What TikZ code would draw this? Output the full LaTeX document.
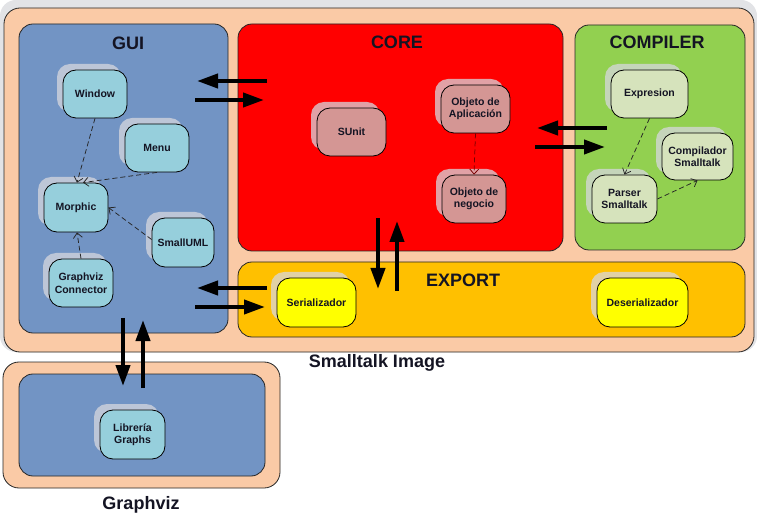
\documentclass[tikz,border=0pt]{standalone}
\usepackage{fontspec}
\setmainfont{Liberation Sans}
\usetikzlibrary{arrows.meta,shadows,calc}
\definecolor{peach}{RGB}{250,202,166}
\definecolor{guiblue}{RGB}{114,148,196}
\definecolor{nodecyan}{RGB}{150,207,220}
\definecolor{corered}{RGB}{255,0,0}
\definecolor{noderose}{RGB}{212,150,148}
\definecolor{compgreen}{RGB}{146,208,80}
\definecolor{nodegreen}{RGB}{214,227,188}
\definecolor{exportorange}{RGB}{255,192,0}
\definecolor{nodeyellow}{RGB}{255,255,0}
\definecolor{txt}{RGB}{20,20,35}
\definecolor{shadowgrey}{RGB}{215,215,222}
\definecolor{outershadow}{RGB}{226,227,230}
\definecolor{deepred}{RGB}{120,0,0}
\begin{document}
\begin{tikzpicture}[x=1pt,y=-1pt,
  box/.style={draw=black!85, line width=0.8pt, rounded corners=14pt},
  title/.style={font=\fontsize{18}{20}\selectfont\bfseries, text=txt, inner sep=0pt},
  comp/.style={draw=black, line width=0.8pt, rounded corners=13pt, align=center, inner sep=0pt,
    font=\fontsize{10.5}{12.5}\selectfont\bfseries, text=txt,
    copy shadow={shadow xshift=-6pt, shadow yshift=6pt, draw=none, fill=shadowgrey, fill opacity=0.75}},
  dep/.style={dash pattern=on 5pt off 3pt, line width=0.75pt, draw=black!85, -{Straight Barb[length=5pt,width=9pt]}},
  flow/.style={line width=4pt, -{Triangle[length=21pt,width=14pt]}}
]
\useasboundingbox (0,0) rectangle (757,518);
\fill[white] (0,0) rectangle (757,518);
% Smalltalk image
\fill[outershadow, rounded corners=16pt] (0,0) rectangle (757,352);
\draw[box, fill=peach, rounded corners=16pt] (4,8) rectangle (754,352);
\draw[box, fill=guiblue] (19,24) rectangle (228,333);
\draw[box, fill=corered] (238,24) rectangle (563,251);
\draw[box, fill=compgreen] (575,25) rectangle (745,250);
\draw[box, fill=exportorange] (238,262) rectangle (745,337);
\node[title] (guit) at (128,43) {GUI};
\node[title] (coret) at (397,42) {CORE};
\node[title] (compt) at (657,42) {COMPILER};
\node[title] (expt) at (463,280) {EXPORT};
\node[title] (sil) at (377,363) {Smalltalk Image};
% Graphviz
\draw[box, fill=peach, rounded corners=16pt] (3,362) rectangle (280,488);
\draw[box, fill=guiblue] (19,374) rectangle (265,476);
\node[title] (gvt) at (141,505) {Graphviz};
% GUI components
\node[comp, fill=nodecyan, minimum width=64pt, minimum height=48pt] (window) at (95,94) {Window};
\node[comp, fill=nodecyan, minimum width=64pt, minimum height=48pt] (menu) at (157,148) {Menu};
\node[comp, fill=nodecyan, minimum width=64pt, minimum height=49pt] (morphic) at (76,207.5) {Morphic};
\node[comp, fill=nodecyan, minimum width=62pt, minimum height=49pt] (smalluml) at (183,242.5) {SmallUML};
\node[comp, fill=nodecyan, minimum width=64pt, minimum height=48pt] (gvconn) at (81,283) {Graphviz\\Connector};
% CORE components
\node[comp, fill=noderose, minimum width=69pt, minimum height=48pt] (sunit) at (351.5,132) {SUnit};
\node[comp, fill=noderose, minimum width=69pt, minimum height=48pt] (objapp) at (475.5,109) {Objeto de\\Aplicación};
\node[comp, fill=noderose, minimum width=64pt, minimum height=48pt] (objneg) at (474,199) {Objeto de\\negocio};
% COMPILER components
\node[comp, fill=nodegreen, minimum width=77pt, minimum height=48pt] (expr) at (649.5,94) {Expresion};
\node[comp, fill=nodegreen, minimum width=71pt, minimum height=47pt] (compst) at (697.5,156.5) {Compilador\\Smalltalk};
\node[comp, fill=nodegreen, minimum width=65pt, minimum height=48pt] (parser) at (624.5,199) {Parser\\Smalltalk};
% EXPORT components
\node[comp, fill=nodeyellow, minimum width=79pt, minimum height=49pt] (ser) at (316.5,302.5) {Serializador};
\node[comp, fill=nodeyellow, minimum width=91pt, minimum height=49pt] (deser) at (642.5,302.5) {Deserializador};
% Graphviz component
\node[comp, fill=nodecyan, minimum width=65pt, minimum height=49pt] (libg) at (132.5,434.5) {Librería\\Graphs};
% dependencies
\draw[dep] (window.south) -- ($(morphic.north)+(1,0)$);
\draw[dep] (menu.south) -- ($(morphic.north)+(7,0)$);
\draw[dep] ($(smalluml.west)+(0,-3)$) -- (morphic.east);
\draw[dep] (gvconn.north) -- ($(morphic.south)+(1,0)$);
\draw[dep, draw=deepred] (objapp.south) -- (objneg.north);
\draw[dep] (expr.south) -- (parser.north);
\draw[dep] (parser.east) -- (compst.south);
% flow arrows
\coordinate (gc1) at (267,81);  \coordinate (gc2) at (197,81);
\coordinate (gc3) at (195,100); \coordinate (gc4) at (264,100);
\coordinate (cc1) at (607,128); \coordinate (cc2) at (537,128);
\coordinate (cc3) at (535,147); \coordinate (cc4) at (605,147);
\coordinate (ce1) at (378,218); \coordinate (ce2) at (378,289);
\coordinate (ce3) at (397,291); \coordinate (ce4) at (397,221);
\coordinate (eg1) at (267,288); \coordinate (eg2) at (197,288);
\coordinate (eg3) at (195,307); \coordinate (eg4) at (265,307);
\coordinate (gg1) at (123,318); \coordinate (gg2) at (123,386);
\coordinate (gg3) at (143,388); \coordinate (gg4) at (143,320);
\draw[flow] (gc1) -- (gc2);
\draw[flow] (gc3) -- (gc4);
\draw[flow] (cc1) -- (cc2);
\draw[flow] (cc3) -- (cc4);
\draw[flow] (ce1) -- (ce2);
\draw[flow] (ce3) -- (ce4);
\draw[flow] (eg1) -- (eg2);
\draw[flow] (eg3) -- (eg4);
\draw[flow] (gg1) -- (gg2);
\draw[flow] (gg3) -- (gg4);
\end{tikzpicture}
\end{document}
